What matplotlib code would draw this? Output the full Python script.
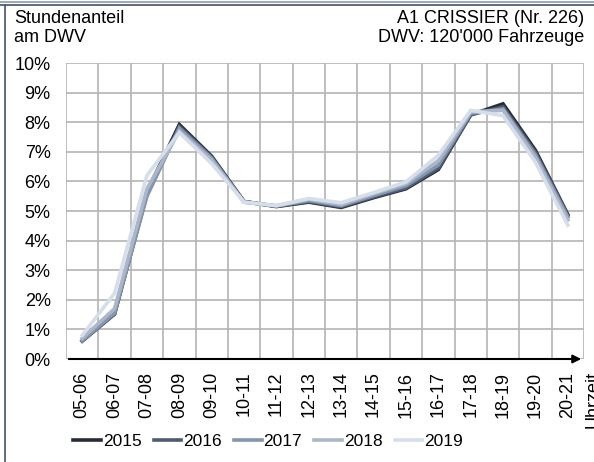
import matplotlib
matplotlib.use("Agg")
import matplotlib.pyplot as plt
from matplotlib.lines import Line2D

plt.rcParams["font.family"] = ["Liberation Sans", "DejaVu Sans"]

# hour slots and share of daily traffic (%) per year
hours = ["05-06", "06-07", "07-08", "08-09", "09-10", "10-11", "11-12", "12-13",
         "13-14", "14-15", "15-16", "16-17", "17-18", "18-19", "19-20", "20-21"]
years = ["2015", "2016", "2017", "2018", "2019"]
v2015 = [0.62, 1.52, 5.65, 7.92, 6.85, 5.32, 5.15, 5.30, 5.12, 5.45, 5.75, 6.40, 8.25, 8.62, 7.05, 4.88]
v2016 = [0.60, 1.52, 5.55, 7.85, 6.82, 5.32, 5.16, 5.32, 5.15, 5.48, 5.78, 6.45, 8.25, 8.52, 6.98, 4.85]
v2017 = [0.62, 1.55, 5.50, 7.80, 6.78, 5.30, 5.17, 5.35, 5.18, 5.52, 5.85, 6.55, 8.30, 8.45, 6.90, 4.80]
v2018 = [0.70, 1.70, 5.75, 7.70, 6.72, 5.30, 5.18, 5.40, 5.22, 5.58, 5.92, 6.70, 8.35, 8.40, 6.80, 4.70]
v2019 = [0.80, 2.22, 6.20, 7.65, 6.60, 5.30, 5.18, 5.42, 5.28, 5.62, 5.98, 6.88, 8.40, 8.22, 6.65, 4.52]
series = [v2015, v2016, v2017, v2018, v2019]
colors = ["#262d38", "#4e5b72", "#8495b0", "#abb7c9", "#d6dee9"]

FS = 13

fig = plt.figure(figsize=(5.94, 4.62), dpi=100)
ax = fig.add_axes([66 / 594, 103 / 462, 518 / 594, 296 / 462])

x = list(range(len(hours)))
for vals, c, yr in zip(series, colors, years):
    ax.plot(x, vals, color=c, lw=2.6, label=yr, solid_joinstyle="miter", zorder=3)

ax.set_xlim(-0.5, len(hours) - 0.5)
ax.set_ylim(0, 10)
ax.set_yticks(range(0, 11))
ax.set_yticklabels([f"{i}%" for i in range(0, 11)], fontsize=FS)
ax.set_xticks(x)
ax.set_xticklabels(hours, rotation=90, fontsize=FS)
ax.set_xticks([i - 0.5 for i in range(len(hours) + 1)], minor=True)
ax.tick_params(axis="y", length=0, pad=11)
ax.tick_params(axis="x", length=0, pad=9)
ax.tick_params(axis="x", which="minor", length=0)
ax.grid(True, which="minor", axis="x", color="#b4b4b4", lw=1.2)
ax.grid(True, which="major", axis="y", color="#b4b4b4", lw=1.2)
ax.set_axisbelow(True)
for s in ax.spines.values():
    s.set_visible(False)

# x axis with arrow
ax.annotate("", xy=(1.0, 0), xytext=(0, 0), xycoords="axes fraction",
            arrowprops=dict(arrowstyle="-|>", color="black", lw=1.5, mutation_scale=12),
            zorder=5)

fig.text(585 / 594, 1 - 371 / 462, "Uhrzeit", rotation=90, ha="left", va="top", fontsize=FS)

fig.text(14 / 594, 1 - 10 / 462, "Stundenanteil\nam DWV", ha="left", va="top",
         fontsize=FS, linespacing=1.15)
fig.text(584 / 594, 1 - 10 / 462, "A1 CRISSIER (Nr. 226)\nDWV: 120'000 Fahrzeuge",
         ha="right", va="top", fontsize=FS, linespacing=1.15)

leg = fig.legend(loc="center", bbox_to_anchor=(268 / 594, 1 - 441 / 462), ncol=5,
                 frameon=False, fontsize=12.5, handlelength=1.6, handletextpad=0.1,
                 columnspacing=0.7)

# outer frame
fig.add_artist(Line2D([0, 1], [1 - 1.5 / 462] * 2, color="#8a9ab5", lw=1.2))
fig.add_artist(Line2D([0, 1], [1 - 4.5 / 462] * 2, color="#44536e", lw=1.2))
fig.add_artist(Line2D([4.5 / 594] * 2, [0, 1 - 4.5 / 462], color="#44536e", lw=1.2))

fig.savefig("out.png", dpi=100)
